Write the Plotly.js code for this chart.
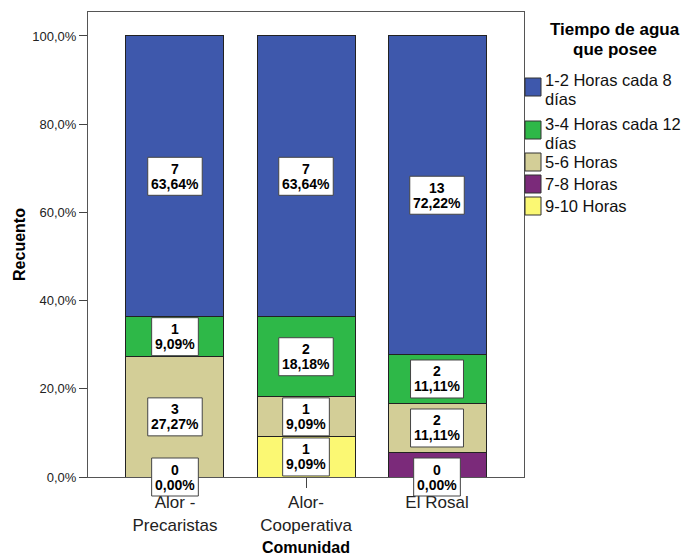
<!DOCTYPE html>
<html><head><meta charset="utf-8">
<script src="https://cdn.plot.ly/plotly-3.0.1.min.js"></script>
<style>html,body{margin:0;padding:0;background:#fff}#chart{width:692px;height:556px}</style>
</head><body><div id="chart"></div>
<script>
// ---- data ----
const categories = ["Alor -<br>Precaristas", "Alor-<br>Cooperativa", "El Rosal"];
const seriesNames = ["1-2 Horas cada 8 días", "3-4 Horas cada 12 días", "5-6 Horas", "7-8 Horas", "9-10 Horas"];
const legendLines = [["1-2 Horas cada 8", "días"], ["3-4 Horas cada 12", "días"], ["5-6 Horas"], ["7-8 Horas"], ["9-10 Horas"]];
const counts12 = [7, 7, 13];
const counts34 = [1, 2, 2];
const counts56 = [3, 1, 2];
const counts78 = [0, 0, 1];
const counts910 = [0, 1, 0];
const yTicks = [0, 20, 40, 60, 80, 100];
const yTickLabels = ["0,0%", "20,0%", "40,0%", "60,0%", "80,0%", "100,0%"];

// ---- style ----
const colors = ["#3E58AC", "#2EB848", "#D3CE97", "#7B2A7A", "#FBF873"];
const FONT = "Arial, 'Liberation Sans', sans-serif";
const W = 692, H = 556;
const M = {l: 88, r: 168, t: 12, b: 79};
const plotW = W - M.l - M.r, plotH = H - M.t - M.b;
const yMax = 105.44;

const seriesCounts = [counts12, counts34, counts56, counts78, counts910];
const xs = categories.map((c, i) => i);
const totals = xs.map(i => seriesCounts.reduce((s, arr) => s + arr[i], 0));
const pct = seriesCounts.map(arr => arr.map((v, i) => v / totals[i] * 100));
const fmtPct = p => p.toFixed(2).replace('.', ',') + '%';

// stack bottom -> top
const order = [4, 3, 2, 1, 0];
const traces = order.map(k => ({
  type: 'bar', x: xs, y: pct[k], name: seriesNames[k],
  width: 0.748,
  marker: {color: colors[k], line: {color: '#222', width: 1}},
  hoverinfo: 'name+y', showlegend: false
}));

// ---- labels ----
const cv = document.createElement('canvas').getContext('2d');
cv.font = 'bold 14px ' + FONT;
const shapes = [], annotations = [];
const boxH = 38;
xs.forEach(i => {
  let base = 0;
  const placed = [];
  order.forEach(k => {
    const p = pct[k][i];
    const c = base + p / 2;
    base += p;
    const yPaper = c / yMax;
    const pyc = M.t + plotH * (1 - yPaper);
    if (placed.some(q => Math.abs(q - pyc) < boxH - 1)) return;
    placed.push(pyc);
    const l1 = String(seriesCounts[k][i]), l2 = fmtPct(p);
    const w = Math.max(cv.measureText(l1).width, cv.measureText(l2).width) + 7;
    shapes.push({type: 'rect', xref: 'x', yref: 'paper', xsizemode: 'pixel', ysizemode: 'pixel',
      xanchor: i, yanchor: yPaper, x0: -w / 2, x1: w / 2, y0: -boxH / 2, y1: boxH / 2,
      fillcolor: '#ffffff', line: {color: '#444', width: 1}, layer: 'above'});
    [[l1, 7.5], [l2, -7.5]].forEach(([t, s]) => annotations.push({
      x: i, y: yPaper, xref: 'x', yref: 'paper', text: '<b>' + t + '</b>', showarrow: false,
      yshift: s, xanchor: 'center', yanchor: 'middle',
      font: {family: FONT, size: 14, color: '#000'}
    }));
  });
});

// ---- manual legend ----
const px = x => (x - M.l) / plotW;
const py = y => (H - M.b - y) / plotH;
const legTextY = [[80, 99], [124, 143], [162], [184], [206]];
const legSwatchY = [87, 130, 162, 184, 206];
seriesNames.forEach((n, k) => {
  shapes.push({type: 'rect', xref: 'paper', yref: 'paper',
    x0: px(525), x1: px(541), y0: py(legSwatchY[k] + 9), y1: py(legSwatchY[k] - 9),
    fillcolor: colors[k], line: {color: '#333', width: 1}});
  legendLines[k].forEach((t, j) => annotations.push({
    xref: 'paper', yref: 'paper', x: px(543), y: py(legTextY[k][j]), text: t,
    showarrow: false, xanchor: 'left', yanchor: 'middle',
    font: {family: FONT, size: 16.5, color: '#111'}
  }));
});
[["Tiempo de agua", 30], ["que posee", 49]].forEach(([t, y]) => annotations.push({
  xref: 'paper', yref: 'paper', x: px(615), y: py(y), text: '<b>' + t + '</b>',
  showarrow: false, xanchor: 'center', yanchor: 'middle',
  font: {family: FONT, size: 17, color: '#000'}
}));

const layout = {
  width: W, height: H, margin: M,
  paper_bgcolor: '#fff', plot_bgcolor: '#fff',
  barmode: 'stack', separators: ',.', showlegend: false,
  font: {family: FONT},
  xaxis: {
    range: [-0.664, 2.664], tickmode: 'array', tickvals: xs, ticktext: categories,
    ticks: 'outside', ticklen: 10, tickcolor: '#444', tickwidth: 1,
    showline: true, mirror: true, linecolor: '#555', linewidth: 1,
    showgrid: false, zeroline: false, fixedrange: true,
    tickfont: {family: FONT, size: 17, color: '#222'},
    title: {text: '<b>Comunidad</b>', font: {family: FONT, size: 16, color: '#000'}, standoff: 8}
  },
  yaxis: {
    range: [0, yMax], tickmode: 'array', tickvals: yTicks, ticktext: yTickLabels,
    ticks: 'outside', ticklen: 8, tickcolor: '#444', tickwidth: 1,
    showline: true, mirror: true, linecolor: '#555', linewidth: 1,
    showgrid: false, zeroline: false, fixedrange: true,
    tickfont: {family: FONT, size: 13, color: '#222'},
    title: {text: '<b>Recuento</b>', font: {family: FONT, size: 16, color: '#000'}, standoff: 2}
  },
  shapes: shapes,
  annotations: annotations
};

Plotly.newPlot('chart', traces, layout, {displayModeBar: false, staticPlot: true});
</script>
</body></html>
